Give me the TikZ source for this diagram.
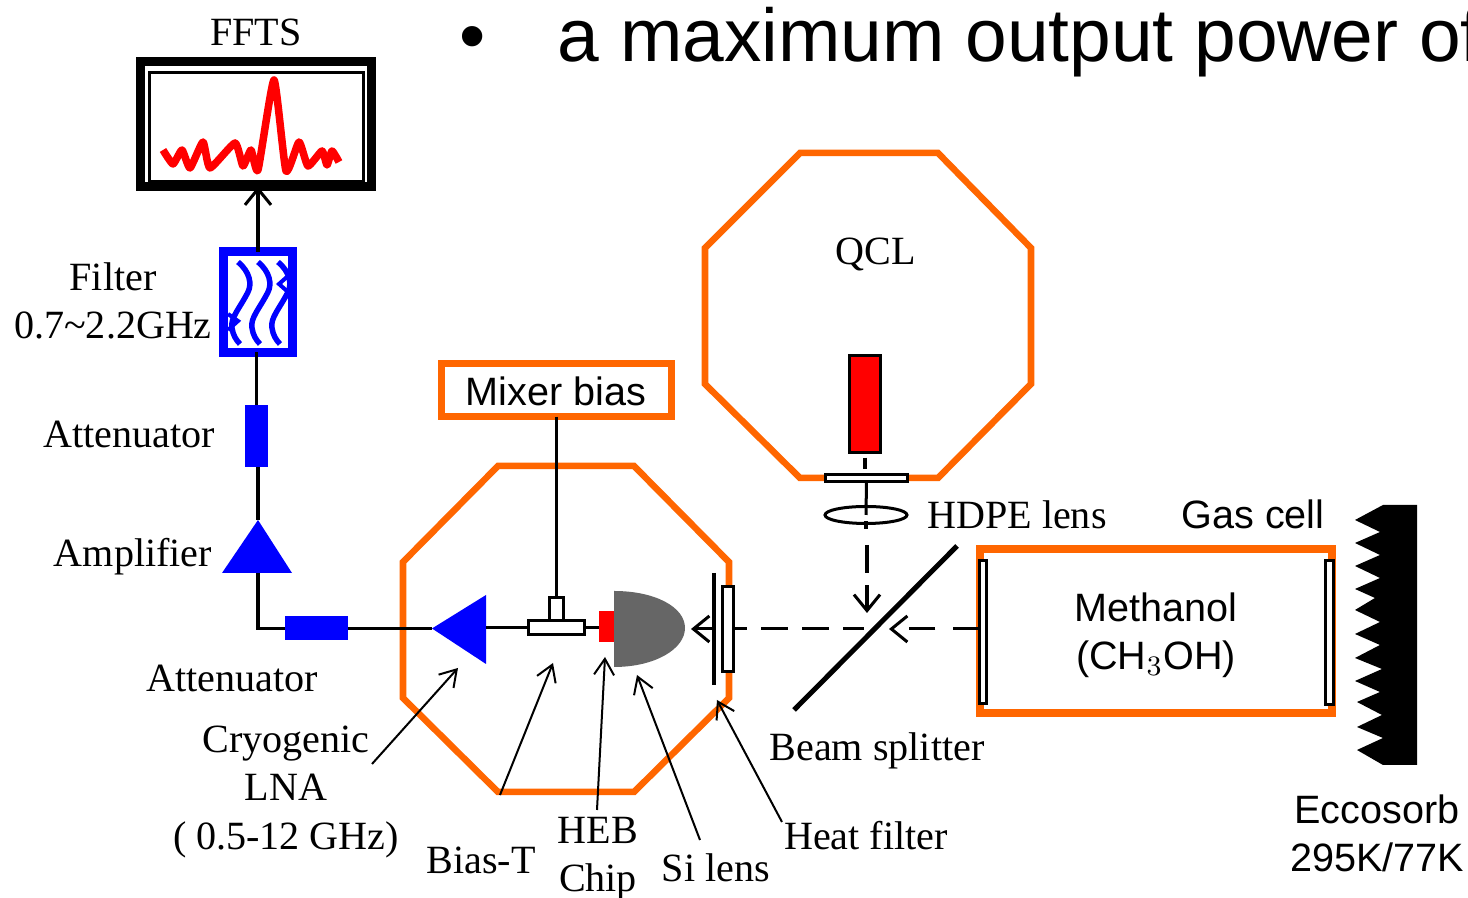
\documentclass[tikz,border=0pt]{standalone}
\usepackage{fontspec}
\setmainfont{Liberation Serif}
\newfontfamily\labelsans{Liberation Sans}
\usetikzlibrary{arrows.meta, shapes.geometric}
\definecolor{cryoorange}{RGB}{255,102,0}
\definecolor{lensgray}{RGB}{102,102,102}
\tikzset{
  wire/.style={line width=.03cm},
  beam/.style={line width=.03cm, dash pattern=on .26cm off .14cm},
  openarrow/.style={-{Straight Barb[length=.16cm,width=.26cm,line width=.03cm]}},
  callout/.style={line width=.02cm, -{Straight Barb[length=.16cm,width=.2cm,line width=.02cm]}},
  cryo/.style={draw=cryoorange, line width=.065cm, line join=miter},
  blueblock/.style={fill=blue, inner sep=0, outer sep=0},
  whitebar/.style={draw=black, fill=white, line width=.03cm, inner sep=0, outer sep=0},
  serif/.style={font=\fontsize{11.4}{13.7}\selectfont, inner sep=0, align=center},
  sans/.style={font=\labelsans\fontsize{11.25}{13.7}\selectfont, inner sep=0, align=center},
}
\begin{document}
\begin{tikzpicture}[x=.01cm, y=-.01cm]
  \clip (0,0) rectangle (1468,898);
  \fill[white] (0,0) rectangle (1468,898);

  \node[font=\labelsans\fontsize{21.3}{24}\selectfont, inner sep=0, anchor=base west] (bullettext) at (557,62) {a maximum output power of};
  \node[font=\labelsans\fontsize{21.3}{24}\selectfont, inner sep=0, anchor=base] (bullet) at (473,62) {•};

  \draw[cryo] (800,153) -- (938,153) -- (1031,248) -- (1031,384) -- (938,478) -- (800,478) -- (705,384) -- (705,248) -- cycle;
  \draw[cryo] (498,466) -- (634,466) -- (729,562) -- (729,698) -- (634,792) -- (498,792) -- (403,698) -- (403,562) -- cycle;

  \node[draw=black, line width=.09cm, minimum width=2.31cm, minimum height=1.25cm, inner sep=0, outer sep=0] (ffts) at (256,124) {};
  \node[draw=black, line width=.03cm, minimum width=2.14cm, minimum height=1.09cm, inner sep=0, outer sep=0] (screen) at (256.5,127) {};
  \draw[red, line width=.075cm, line join=round] plot[smooth, tension=.3] coordinates {(163,150) (173,164) (182,150) (190,168) (203,142) (210,168) (235,143) (243,166) (251,150) (258,170) (274,80) (286,171) (299,142) (308,166) (322,151) (327,165) (332,151) (339,162)};
  \node[serif] (fftslabel) at (256,32) {FFTS};

  \node[draw=blue, line width=.09cm, minimum width=.68cm, minimum height=1cm, inner sep=0, outer sep=0] (filter) at (258,302) {};
  \foreach \dx in {0,20,40} {
    \draw[blue, line width=.055cm, xshift=\dx*.01cm] (238,262) .. controls (250,272) and (252,284) .. (248,292) .. controls (240,308) and (230,318) .. (232,328) .. controls (233,335) and (236,340) .. (240,344);
  }
  \draw[blue, line width=.04cm] (228,314) -- (238,321) -- (228,330);
  \draw[blue, line width=.04cm] (288,276) -- (279,284) -- (288,292);
  \node[blueblock, minimum width=.23cm, minimum height=.62cm] (att1) at (256.5,436) {};
  \node[blueblock, minimum width=.63cm, minimum height=.24cm] (att2) at (316.5,628.5) {};

  \coordinate (amptip) at (258,520);
  \coordinate (ampbase) at (258,573);
  \coordinate (ampcorner) at (258,628.5);
  \fill[blue] (amptip) -- (222,573) -- (292,573) -- cycle;

  \coordinate (lnatip) at (432,628.5);
  \coordinate (lnabase) at (486,627.5);
  \fill[blue] (lnatip) -- (486,595) -- (486,664) -- cycle;

  \draw[wire, openarrow] (filter.north) -- (filter.north |- ffts.south);
  \draw[wire] (att1.north) -- (att1.north |- filter.south);
  \draw[wire] (amptip) -- (amptip |- att1.south);
  \draw[wire] (ampbase) -- (ampcorner) -- (att2.west);
  \draw[wire] (att2.east) -- (lnatip);

  \node[draw=cryoorange, line width=.07cm, minimum width=2.29cm, minimum height=.53cm, inner sep=0, outer sep=0] (mixerbox) at (556.5,390) {};
  \node[sans] (mixerbias) at (556,391) {Mixer bias};
  \node[whitebar, minimum width=.13cm, minimum height=.23cm] (biasstub) at (556.5,609.5) {};
  \node[whitebar, minimum width=.55cm, minimum height=.14cm] (biast) at (556.5,627.5) {};
  \draw[wire] (mixerbox.south) -- (biasstub.north);
  \draw[wire] (lnabase) -- (biast.west);
  \node[fill=red, inner sep=0, outer sep=0, minimum width=.15cm, minimum height=.31cm] (chip) at (606.5,626.5) {};
  \draw[wire] (biast.east) -- (biast.east -| chip.west);
  \fill[lensgray] (614,591) .. controls (655,591) and (685,607) .. (685,628) .. controls (685,649) and (655,667) .. (614,667) -- cycle;

  \coordinate (heattop) at (714,573);
  \coordinate (heatbot) at (714,685);
  \draw[wire] (heattop) -- (heatbot);
  \node[whitebar, minimum width=.1cm, minimum height=.84cm] (heatbar) at (728,629) {};

  \node[whitebar, fill=red, minimum width=.31cm, minimum height=.97cm] (qcl) at (865,404) {};
  \node[whitebar, minimum width=.81cm, minimum height=.07cm] (flange) at (866.5,478.5) {};
  \node[draw=black, line width=.03cm, ellipse, minimum width=.82cm, minimum height=.17cm, inner sep=0, outer sep=0] (hdpe) at (866,515) {};
  \draw[black, line width=.05cm] (794,710) -- (957,546);

  \node[draw=cryoorange, line width=.08cm, minimum width=3.52cm, minimum height=1.63cm, inner sep=0, outer sep=0] (gascell) at (1156,631) {};
  \node[whitebar, minimum width=.07cm, minimum height=1.42cm] (winleft) at (983,632) {};
  \node[whitebar, minimum width=.07cm, minimum height=1.43cm] (winright) at (1329.5,632.5) {};

  \draw[wire] (flange.south) -- (hdpe.center);
  \draw[wire] (qcl.south) ++(0,5) -- +(0,11);
  \draw[beam] (hdpe.south) ++(0,-2) -- +(0,8);
  \draw[beam, openarrow, dash pattern=on .28cm off .12cm] (867,545) -- (867,613);
  \draw[beam, openarrow, dash pattern=on .26cm off .18cm] (winleft.west |- heatbar.east) -- (889,629);
  \draw[beam, dash pattern=on .27cm off .14cm, dash phase=.06cm] (864,629) -- (heatbar.east);
  \draw[wire, openarrow] (heattop |- heatbar.west) -- (691,629);

  \fill[black] (1417,505) -- (1383,505) -- (1355,520) -- (1380,532) -- (1355,543) -- (1380,555) -- (1355,566) -- (1380,578) -- (1355,589) -- (1375,598) -- (1355,610) -- (1380,622) -- (1355,634) -- (1380,645) -- (1355,658) -- (1382,669) -- (1355,681) -- (1380,692) -- (1357,702) -- (1382,715) -- (1357,727) -- (1383,738) -- (1357,750) -- (1383,765) -- (1417,765) -- cycle;

  \node[serif] (filterlabel) at (113,277) {Filter};
  \node[serif] (bandlabel) at (113,325) {0.7\textasciitilde 2.2GHz};
  \node[serif] (att1label) at (129,434) {Attenuator};
  \node[serif] (amplabel) at (133,557) {Amplifier};
  \node[serif] (att2label) at (232,678) {Attenuator};
  \node[serif] (lnalabel) at (286,792) {Cryogenic\\LNA\\( 0.5-12 GHz)};
  \node[serif] (biaslabel) at (481,860) {Bias-T};
  \node[serif] (heblabel) at (598,859) {HEB\\Chip};
  \node[serif] (silabel) at (716,868) {Si lens};
  \node[serif] (heatlabel) at (866,836) {Heat filter};
  \node[serif] (splitlabel) at (877,751) {Beam splitter};
  \node[serif] (hdpelabel) at (1017,515) {HDPE lens};
  \node[serif] (qcllabel) at (876,254) {QCL};
  \node[sans] (gaslabel) at (1253,514) {Gas cell};
  \node[sans] (methlabel) at (1156,635) {Methanol\\(CH$_3$OH)};
  \node[sans] (ecclabel) at (1377,833) {Eccosorb\\295K/77K};

  \coordinate (lnafoot) at (372,764);
  \coordinate (lnaend) at (458,668);
  \coordinate (biasfoot) at (500,795);
  \coordinate (biasend) at (553,663);
  \coordinate (chipfoot) at (597,810);
  \coordinate (chipend) at (605,657);
  \coordinate (sifoot) at (700,840);
  \coordinate (siend) at (637,675);
  \coordinate (heatfoot) at (782,822);
  \coordinate (heatend) at (717,700);
  \draw[callout] (lnafoot) -- (lnaend);
  \draw[callout] (biasfoot) -- (biasend);
  \draw[callout] (chipfoot) -- (chipend);
  \draw[callout] (sifoot) -- (siend);
  \draw[callout] (heatfoot) -- (heatend);
\end{tikzpicture}
\end{document}
